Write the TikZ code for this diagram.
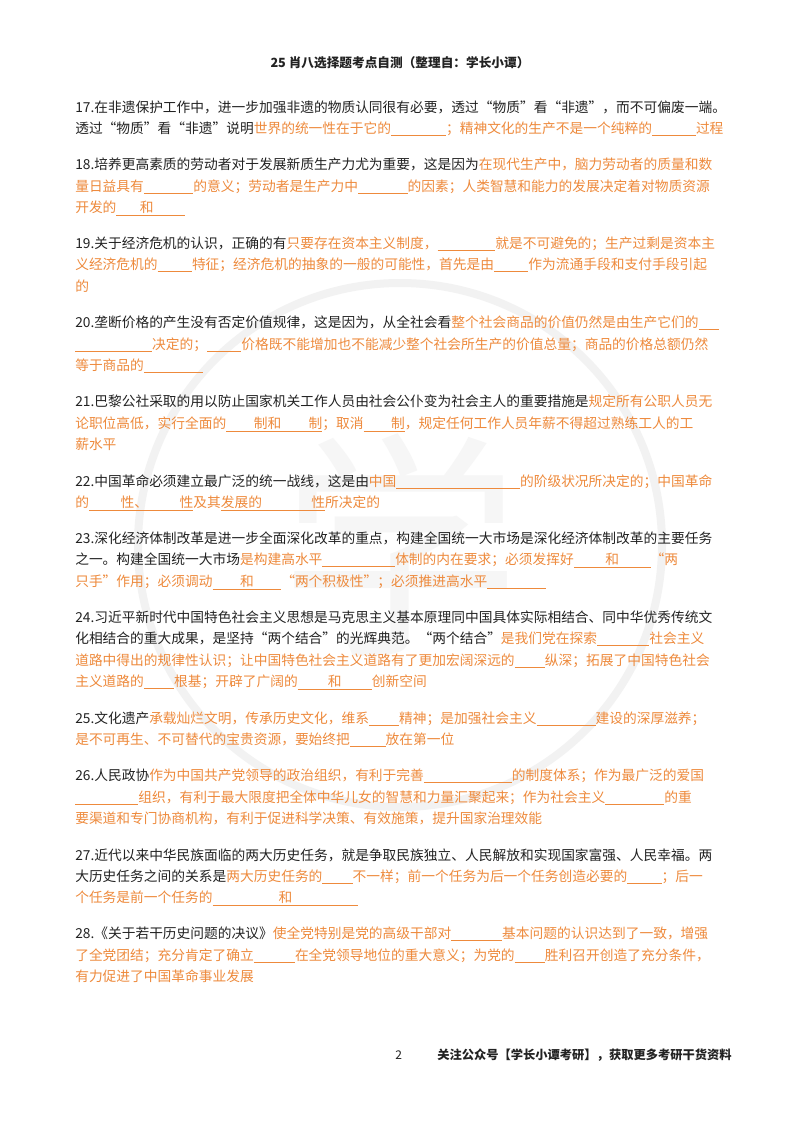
\documentclass[tikz,border=0pt]{standalone}
\usepackage{fontspec}
\setmainfont{Noto Sans CJK SC}
\XeTeXlinebreaklocale "zh"
\XeTeXlinebreakskip=0pt plus 2pt
\definecolor{og}{HTML}{EE8A3C}
\definecolor{tx}{HTML}{222222}
\newcommand{\bl}[1]{\rule[-2pt]{#1}{0.5pt}}
\newcommand{\ul}[1]{\smash{\underline{\hbox{#1}}}}
\newcommand{\full}[1]{\hbox to 485pt{#1}}
\newcommand{\og}{\color{og}}
\begin{document}
\begin{tikzpicture}[x=0.75pt,y=-0.75pt,
  ln/.style={anchor=base west,inner sep=0pt,text=tx,font=\fontsize{10.3pt}{12pt}\selectfont}]
\useasboundingbox (0,0) rectangle (800,1132);
\fill[white] (0,0) rectangle (800,1132);
\draw[gray!10,line width=6pt] (400,545) circle (262);
\node[gray!7,font=\fontsize{180pt}{180pt}\selectfont,inner sep=0pt] (wm) at (400,545) {学};
\node[ln,anchor=base,font=\bfseries\fontsize{9.5pt}{11pt}\selectfont] (h) at (400,67) {25 肖八选择题考点自测（整理自：学长小谭）};
\node[ln] (a1) at (75,112) {\full{17.在非遗保护工作中，进一步加强非遗的物质认同很有必要，透过“物质”看“非遗”，而不可偏废一端。}};
\node[ln] (a2) at (75,133) {\full{透过“物质”看“非遗”说明{\og 世界的统一性在于它的\bl{4em}；精神文化的生产不是一个纯粹的\bl{3.2em}过程}}};
\node[ln] (b1) at (75,169) {\full{18.培养更高素质的劳动者对于发展新质生产力尤为重要，这是因为{\og 在现代生产中，脑力劳动者的质量和数}}};
\node[ln] (b2) at (75,191) {\full{\og 量日益具有\bl{3.6em}的意义；劳动者是生产力中\bl{3.6em}的因素；人类智慧和能力的发展决定着对物质资源}};
\node[ln] (b3) at (75,212) {\og 开发的\ul{\hspace{1.7em}和\hspace{2.3em}}};
\node[ln] (c1) at (75,248) {\full{19.关于经济危机的认识，正确的有{\og 只要存在资本主义制度，\bl{4.2em}就是不可避免的；生产过剩是资本主}}};
\node[ln] (c2) at (75,269) {\full{\og 义经济危机的\bl{2.5em}特征；经济危机的抽象的一般的可能性，首先是由\bl{2.5em}作为流通手段和支付手段引起}};
\node[ln] (c3) at (75,291) {\og 的};
\node[ln] (d1) at (75,327) {\full{20.垄断价格的产生没有否定价值规律，这是因为，从全社会看{\og 整个社会商品的价值仍然是由生产它们的\bl{1.5em}}}};
\node[ln] (d2) at (75,349) {\full{\og \bl{5.6em}决定的；\bl{2.5em}价格既不能增加也不能减少整个社会所生产的价值总量；商品的价格总额仍然}};
\node[ln] (d3) at (75,370) {\og 等于商品的\bl{4.3em}};
\node[ln] (e1) at (75,406) {\full{21.巴黎公社采取的用以防止国家机关工作人员由社会公仆变为社会主人的重要措施是{\og 规定所有公职人员无}}};
\node[ln] (e2) at (75,428) {\full{\og 论职位高低，实行全面的\ul{\hspace{2em}制和\hspace{2em}制}；取消\ul{\hspace{2em}制}，规定任何工作人员年薪不得超过熟练工人的工}};
\node[ln] (e3) at (75,449) {\og 薪水平};
\node[ln] (f1) at (75,486) {\full{22.中国革命必须建立最广泛的统一战线，这是由{\og 中国\bl{9em}的阶级状况所决定的；中国革命}}};
\node[ln] (f2) at (75,507) {\og 的\ul{\hspace{2.3em}性、\hspace{2.3em}性}及其\ul{发展的\hspace{3.6em}性}所决定的};
\node[ln] (g1) at (75,543) {\full{23.深化经济体制改革是进一步全面深化改革的重点，构建全国统一大市场是深化经济体制改革的主要任务}};
\node[ln] (g2) at (75,564) {\full{之一。构建全国统一大市场{\og 是构建高水平\bl{5.3em}体制的内在要求；必须发挥好\ul{\hspace{2.3em}和\hspace{2.3em}}“两}}};
\node[ln] (g3) at (75,586) {\og 只手”作用；必须调动\ul{\hspace{2em}和\hspace{2em}}“两个积极性”；必须推进高水平\bl{4.3em}};
\node[ln] (k1) at (75,622) {\full{24.习近平新时代中国特色社会主义思想是马克思主义基本原理同中国具体实际相结合、同中华优秀传统文}};
\node[ln] (k2) at (75,643) {\full{化相结合的重大成果，是坚持“两个结合”的光辉典范。“两个结合”{\og 是我们党在探索\bl{3.8em}社会主义}}};
\node[ln] (k3) at (75,665) {\full{\og 道路中得出的规律性认识；让中国特色社会主义道路有了更加宏阔深远的\bl{2.2em}纵深；拓展了中国特色社会}};
\node[ln] (k4) at (75,686) {\og 主义道路的\bl{2.2em}根基；开辟了广阔的\ul{\hspace{2.2em}和\hspace{2.2em}}创新空间};
\node[ln] (m1) at (75,723) {\full{25.文化遗产{\og 承载灿烂文明，传承历史文化，维系\bl{2.2em}精神；是加强社会主义\bl{4.3em}建设的深厚滋养；}}};
\node[ln] (m2) at (75,744) {\og 是不可再生、不可替代的宝贵资源，要始终把\bl{2.6em}放在第一位};
\node[ln] (n1) at (75,780) {\full{26.人民政协{\og 作为中国共产党领导的政治组织，有利于完善\bl{6.4em}的制度体系；作为最广泛的爱国}}};
\node[ln] (n2) at (75,802) {\full{\og \bl{4.6em}组织，有利于最大限度把全体中华儿女的智慧和力量汇聚起来；作为社会主义\bl{4.3em}的重}};
\node[ln] (n3) at (75,823) {\og 要渠道和专门协商机构，有利于促进科学决策、有效施策，提升国家治理效能};
\node[ln] (p1) at (75,860) {\full{27.近代以来中华民族面临的两大历史任务，就是争取民族独立、人民解放和实现国家富强、人民幸福。两}};
\node[ln] (p2) at (75,881) {\full{大历史任务之间的关系是{\og 两大历史任务的\bl{2.2em}不一样；前一个任务为后一个任务创造必要的\bl{2.5em}；后一}}};
\node[ln] (p3) at (75,902) {\og 个任务是前一个任务的\ul{\hspace{4.8em}和\hspace{4.8em}}};
\node[ln] (q1) at (75,938) {\full{28.《关于若干历史问题的决议》{\og 使全党特别是党的高级干部对\bl{3.7em}基本问题的认识达到了一致，增强}}};
\node[ln] (q2) at (75,960) {\full{\og 了全党团结；充分肯定了确立\bl{3em}在全党领导地位的重大意义；为党的\bl{2.2em}胜利召开创造了充分条件，}};
\node[ln] (q3) at (75,981) {\og 有力促进了中国革命事业发展};
\node[ln,font=\fontsize{9pt}{11pt}\selectfont] (pg) at (395,1059) {2};
\node[ln,font=\bfseries\fontsize{9.2pt}{11pt}\selectfont] (ft) at (437,1059) {关注公众号【学长小谭考研】，获取更多考研干货资料};
\end{tikzpicture}
\end{document}
